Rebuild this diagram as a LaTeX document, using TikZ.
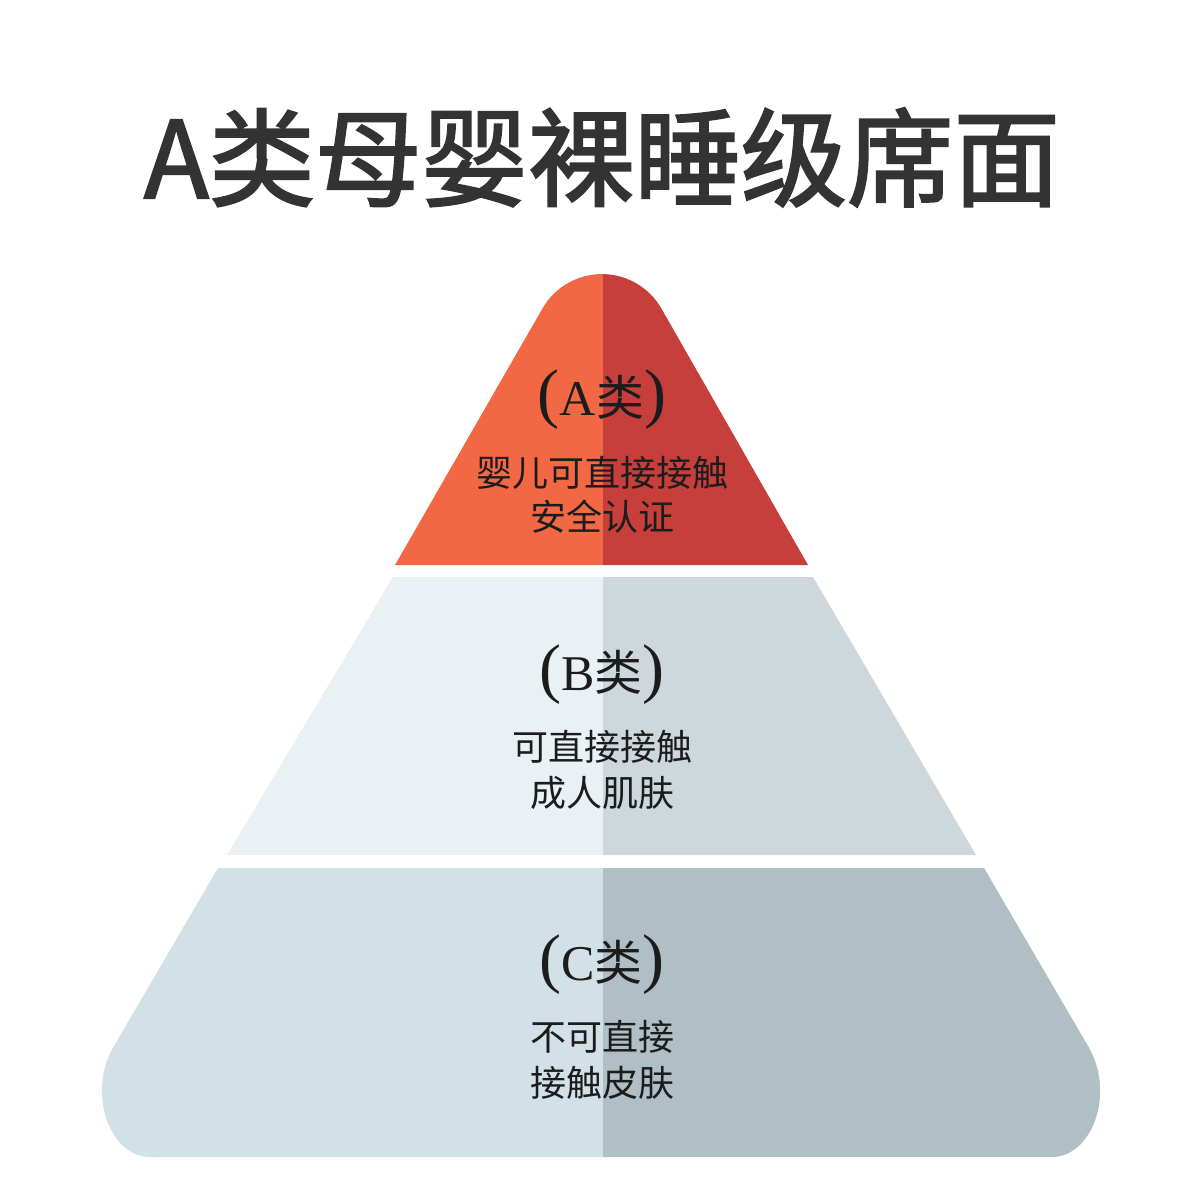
\documentclass[tikz,border=0pt]{standalone}
\usepackage{fontspec}
\setmainfont{Liberation Serif}
\newfontfamily\cjk{Noto Sans CJK SC}
\newfontfamily\cjktitle[FakeBold=2]{Noto Sans CJK SC}
\definecolor{titlegray}{HTML}{333333}
\definecolor{txt}{HTML}{1C1C1C}
\definecolor{aleft}{HTML}{F26845}
\definecolor{aright}{HTML}{C63F3B}
\definecolor{bleft}{HTML}{EAF1F4}
\definecolor{bright}{HTML}{CED7DC}
\definecolor{cleft}{HTML}{D2E0E7}
\definecolor{cright}{HTML}{B0BEC5}
\newcommand\clslabel[1]{{\fontsize{33}{33}\selectfont(}{\fontsize{25}{25}\selectfont #1}{\cjk\fontsize{24}{24}\selectfont 类}{\fontsize{33}{33}\selectfont)}}
\tikzset{
  bodytext/.style={anchor=base, inner sep=0pt, text=txt, font=\cjk\fontsize{18}{18}\selectfont},
  headtext/.style={anchor=base, inner sep=0pt, text=txt},
}
\begin{document}
\begin{tikzpicture}[x=0.5pt,y=-0.5pt]
\useasboundingbox (0,0) rectangle (1200,1200);
\fill[white] (0,0) rectangle (1200,1200);

% title
\node[anchor=base, inner sep=0pt, text=titlegray, font=\cjktitle\fontsize{53.2}{53.2}\selectfont] (title) at (602,198) {A类母婴裸睡级席面};

% top tier (A)
\begin{scope}
  \clip (395,565) -- (542.5,308.4) arc[start angle=210, end angle=330, radius=68.6] -- (808,565) -- cycle;
  \fill[aleft] (0,0) rectangle (603,1200);
  \fill[aright] (603,0) rectangle (1200,1200);
\end{scope}

% middle tier (B)
\begin{scope}
  \clip (393,577) -- (813,577) -- (976,855) -- (227,855) -- cycle;
  \fill[bleft] (0,0) rectangle (603,1200);
  \fill[bright] (603,0) rectangle (1200,1200);
\end{scope}

% bottom tier (C)
\begin{scope}
  \clip (218,868) -- (984,868) -- (1088,1046) .. controls (1116,1093) and (1092,1157) .. (1052,1157)
        -- (150,1157) .. controls (110,1157) and (86,1093) .. (114,1046) -- cycle;
  \fill[cleft] (0,0) rectangle (603,1200);
  \fill[cright] (603,0) rectangle (1200,1200);
\end{scope}

% labels
\node[headtext] (ahead) at (602,415) {\clslabel{A}};
\node[bodytext] (a1) at (602,486) {婴儿可直接接触};
\node[bodytext] (a2) at (602,530) {安全认证};

\node[headtext] (bhead) at (602,690) {\clslabel{B}};
\node[bodytext] (b1) at (602,760) {可直接接触};
\node[bodytext] (b2) at (602,806) {成人肌肤};

\node[headtext] (chead) at (602,980) {\clslabel{C}};
\node[bodytext] (c1) at (602,1050) {不可直接};
\node[bodytext] (c2) at (602,1096) {接触皮肤};
\end{tikzpicture}
\end{document}
